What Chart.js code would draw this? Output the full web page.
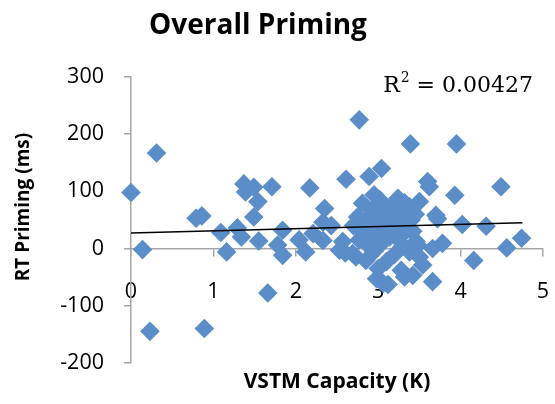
<!DOCTYPE html>
<html><head><meta charset="utf-8">
<script src="https://cdn.jsdelivr.net/npm/chart.js@4/dist/chart.umd.min.js"></script>
<style>html,body{margin:0;padding:0;background:#fff}#wrap{width:555px;height:404px}</style>
</head><body><div id="wrap"><canvas id="c" width="555" height="404"></canvas></div>
<script>
// ---- data ----
const capacityK = [
  0.00,0.31,0.14,0.23,0.89,0.79,0.86,1.09,1.16,1.29,1.34,1.37,1.39,1.49,1.54,1.49,1.55,1.66,1.71,1.78,
  1.84,1.84,2.04,2.12,2.17,2.21,2.33,2.35,2.33,2.43,2.53,2.57,2.60,2.61,2.69,2.73,2.77,2.77,2.81,2.85,
  2.89,2.93,2.93,2.95,2.98,3.02,3.02,3.04,3.06,3.10,3.12,3.14,3.24,3.28,3.32,3.34,3.38,3.38,3.39,3.42,
  3.46,3.48,3.50,3.50,3.54,3.60,3.62,3.66,3.66,3.70,3.72,3.78,3.93,3.95,4.02,4.16,4.31,4.49,4.56,4.74,
  2.70,2.75,2.80,2.85,2.88,2.90,2.95,2.98,3.00,3.05,3.05,3.08,3.10,3.15,3.18,3.20,3.22,3.25,3.28,3.30,
  3.32,3.35,3.40,3.42,3.45,3.30,3.20,2.95,3.00
];
const primingMs = [
  98,167,-2,-145,-140,53,57,28,-6,36,20,113,99,107,82,55,13,-78,108,6,
  32,-12,15,-6,106,26,46,70,14,40,-3,12,-8,121,-9,-15,225,15,79,-21,
  126,67,20,94,-53,85,38,140,-61,-23,-63,20,88,-38,-50,58,73,-6,183,-47,
  12,6,82,-15,-29,117,108,0,-58,58,52,9,93,183,42,-21,39,108,1,18,
  40,55,30,50,5,40,60,30,50,70,10,45,60,35,75,50,20,65,40,25,
  80,35,50,30,60,5,-10,-5,-35
];
const trendX = [0, 4.75];
const trendY = [27, 45];
const xTicks = [0, 1, 2, 3, 4, 5];
const yTicks = [-200, -100, 0, 100, 200, 300];
const chartTitle = 'Overall Priming';
const xTitle = 'VSTM Capacity (K)';
const yTitle = 'RT Priming (ms)';
const r2Value = '0.00427';

const points = capacityK.map((x, i) => ({ x: x, y: primingMs[i] }));
const trend = trendX.map((x, i) => ({ x: x, y: trendY[i] }));

const AXIS = '#A6A6A6';
const SANS = '"Open Sans", sans-serif';

const textPlugin = {
  id: 'texts',
  afterDraw(chart) {
    const ctx = chart.ctx;
    ctx.save();
    ctx.fillStyle = '#000';
    // chart title
    ctx.font = 'bold 28px ' + SANS;
    ctx.textAlign = 'center';
    ctx.textBaseline = 'middle';
    ctx.fillText(chartTitle, 258, 26);
    // y axis title
    ctx.save();
    ctx.translate(24, 207);
    ctx.rotate(-Math.PI / 2);
    ctx.font = 'bold 19px ' + SANS;
    ctx.fillText(yTitle, 0, 0);
    ctx.restore();
    // R squared
    ctx.textAlign = 'left';
    ctx.textBaseline = 'alphabetic';
    const big = '22px "DejaVu Serif", serif';
    const small = '14px "DejaVu Serif", serif';
    ctx.font = big; const wR = ctx.measureText('R').width;
    ctx.font = small; const w2 = ctx.measureText('2').width;
    ctx.font = big; const rest = ' = ' + r2Value; const wRest = ctx.measureText(rest).width;
    const x0 = 532 - (wR + w2 + wRest);
    const base = 92;
    ctx.font = big; ctx.fillText('R', x0, base);
    ctx.font = small; ctx.fillText('2', x0 + wR + 1, base - 10);
    ctx.font = big; ctx.fillText(rest, x0 + wR + w2 + 1, base);
    ctx.restore();
  }
};

const noSidePad = s => { s.paddingLeft = 0; s.paddingRight = 0; };

new Chart(document.getElementById('c'), {
  type: 'scatter',
  data: {
    datasets: [
      {
        type: 'line', data: trend, showLine: true, borderColor: '#000', borderWidth: 1.6,
        pointRadius: 0, fill: false, clip: false, xAxisID: 'x', yAxisID: 'y'
      },
      {
        data: points, pointStyle: 'rectRot', pointRadius: 9.8, pointHoverRadius: 9.8,
        backgroundColor: '#5B8DC8', borderColor: '#5B8DC8', borderWidth: 0, clip: false,
        xAxisID: 'x', yAxisID: 'y'
      }
    ]
  },
  options: {
    responsive: false,
    animation: false,
    events: [],
    layout: { padding: { top: 77, right: 12, left: 0, bottom: 2 } },
    plugins: { legend: { display: false }, tooltip: { enabled: false }, title: { display: false } },
    scales: {
      x: {
        type: 'linear', min: 0, max: 5, position: { y: 0 },
        afterBuildTicks: s => { s.ticks = xTicks.map(v => ({ value: v })); },
        afterFit: s => { s.height = 0; noSidePad(s); },
        grid: { drawOnChartArea: false, drawTicks: true, tickLength: 7, color: AXIS, lineWidth: 1.5 },
        border: { color: AXIS, width: 1.5 },
        ticks: { color: '#000', font: { family: SANS, size: 21.5 }, padding: 23, maxRotation: 0 }
      },
      x2: {
        type: 'linear', position: 'bottom', min: 0, max: 5,
        afterFit: noSidePad,
        ticks: { display: false }, grid: { display: false, drawTicks: false }, border: { display: false },
        title: { display: true, text: xTitle, color: '#000', font: { family: SANS, size: 21, weight: 'bold' }, padding: { top: 7, bottom: 7 } }
      },
      y: {
        type: 'linear', min: -200, max: 300, position: 'left',
        afterBuildTicks: s => { s.ticks = yTicks.map(v => ({ value: v })); },
        afterFit: s => { s.width = 131; },
        grid: { drawOnChartArea: false, drawTicks: true, tickLength: 7, color: AXIS, lineWidth: 1.5 },
        border: { color: AXIS, width: 1.5 },
        ticks: { color: '#000', font: { family: SANS, size: 21.5 }, padding: 20 }
      }
    }
  },
  plugins: [textPlugin]
});
</script>
</body></html>
